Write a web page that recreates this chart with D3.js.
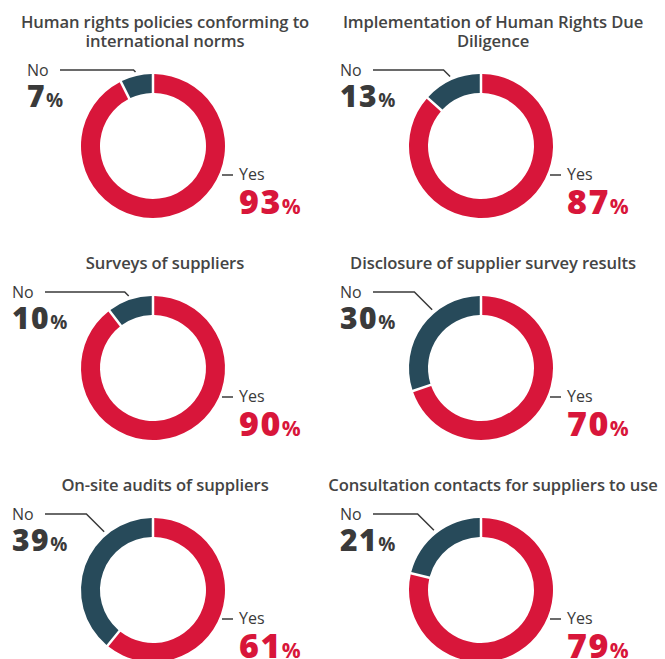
<!DOCTYPE html>
<html>
<head>
<meta charset="utf-8">
<script src="https://cdn.jsdelivr.net/npm/d3@7"></script>
<style>
  body { margin: 0; background: #fff; }
  text { font-family: "Open Sans", "Noto Sans", sans-serif; }
</style>
</head>
<body>
<div id="chart"></div>
<script>
// chart data
var titleLines = [
    ["Human rights policies conforming to", "international norms"],
    ["Implementation of Human Rights Due", "Diligence"],
    ["Surveys of suppliers"],
    ["Disclosure of supplier survey results"],
    ["On-site audits of suppliers"],
    ["Consultation contacts for suppliers to use"]
];
var categories = ["Yes", "No"];
var yesValues = [93, 87, 90, 70, 61, 79];
var noValues = [7, 13, 10, 30, 39, 21];

var width = 665, height = 659;
var outerR = 72, innerR = 53;
var red = "#d8163a", navy = "#274a5a", ink = "#3a3a3a";

var colX = d3.scalePoint().domain([0, 1]).range([153, 481]);
var rowY = d3.scalePoint().domain([0, 1, 2]).range([146, 590]);

var color = d3.scaleOrdinal().domain(categories).range([red, navy]);

var pie = d3.pie()
    .sort(null)
    .value(function (d) { return d.value; })
    .padAngle(0.028);

var arc = d3.arc()
    .innerRadius(innerR)
    .outerRadius(outerR);

var svg = d3.select("#chart")
    .append("svg")
    .attr("width", width)
    .attr("height", height);

yesValues.forEach(function (yes, i) {
    var no = noValues[i];
    var cx = colX(i % 2), cy = rowY(Math.floor(i / 2));
    var g = svg.append("g").attr("transform", "translate(" + cx + "," + cy + ")");

    // title, bottom aligned above the donut
    var lines = titleLines[i];
    g.append("text")
        .attr("text-anchor", "middle")
        .attr("fill", "#444")
        .attr("font-size", 16.6)
        .attr("font-weight", 600)
        .attr("letter-spacing", -0.1)
        .selectAll("tspan")
        .data(lines)
        .enter()
        .append("tspan")
        .attr("x", 12)
        .attr("y", function (d, j) { return -99 - (lines.length - 1 - j) * 19.5; })
        .text(function (d) { return d; });

    var slices = pie([{ key: "Yes", value: yes }, { key: "No", value: no }]);

    g.selectAll("path")
        .data(slices)
        .enter()
        .append("path")
        .attr("d", arc)
        .attr("fill", function (d) { return color(d.data.key); });

    // "No" label with leader line
    var noSlice = slices[1];
    var mid = 2 * Math.PI - (noSlice.startAngle + noSlice.endAngle) / 2;
    var a = Math.min(mid, 40 * Math.PI / 180);
    var ex = -(outerR + 4) * Math.sin(a), ey = -(outerR + 4) * Math.cos(a);
    var lineY = -76;
    var elbowX = ex - (ey - lineY);
    var labelX = i === 0 ? -126 : -141;

    g.append("path")
        .attr("d", "M" + (labelX + 33) + "," + lineY + "H" + elbowX + "L" + ex + "," + ey)
        .attr("fill", "none")
        .attr("stroke", ink)
        .attr("stroke-width", 1.5);

    g.append("text")
        .attr("x", labelX)
        .attr("y", -70)
        .attr("fill", ink)
        .attr("font-size", 16)
        .attr("font-weight", 500)
        .text("No");

    var noText = g.append("text")
        .attr("x", labelX)
        .attr("y", -39)
        .attr("fill", ink)
        .attr("font-weight", 800);
    noText.append("tspan").attr("font-size", 30).attr("letter-spacing", 1.5).text(no);
    noText.append("tspan").attr("font-size", 19).attr("font-weight", 700).text("%");

    // "Yes" label
    g.append("line")
        .attr("x1", 69).attr("x2", 80)
        .attr("y1", 29).attr("y2", 29)
        .attr("stroke", ink)
        .attr("stroke-width", 1.5);

    g.append("text")
        .attr("x", 86)
        .attr("y", 34)
        .attr("fill", ink)
        .attr("font-size", 16)
        .attr("font-weight", 500)
        .text("Yes");

    var yesText = g.append("text")
        .attr("x", 86)
        .attr("y", 68)
        .attr("fill", red)
        .attr("font-weight", 800);
    yesText.append("tspan").attr("font-size", 34).attr("letter-spacing", 1.5).text(yes);
    yesText.append("tspan").attr("font-size", 21).attr("font-weight", 700).text("%");
});
</script>
</body>
</html>
